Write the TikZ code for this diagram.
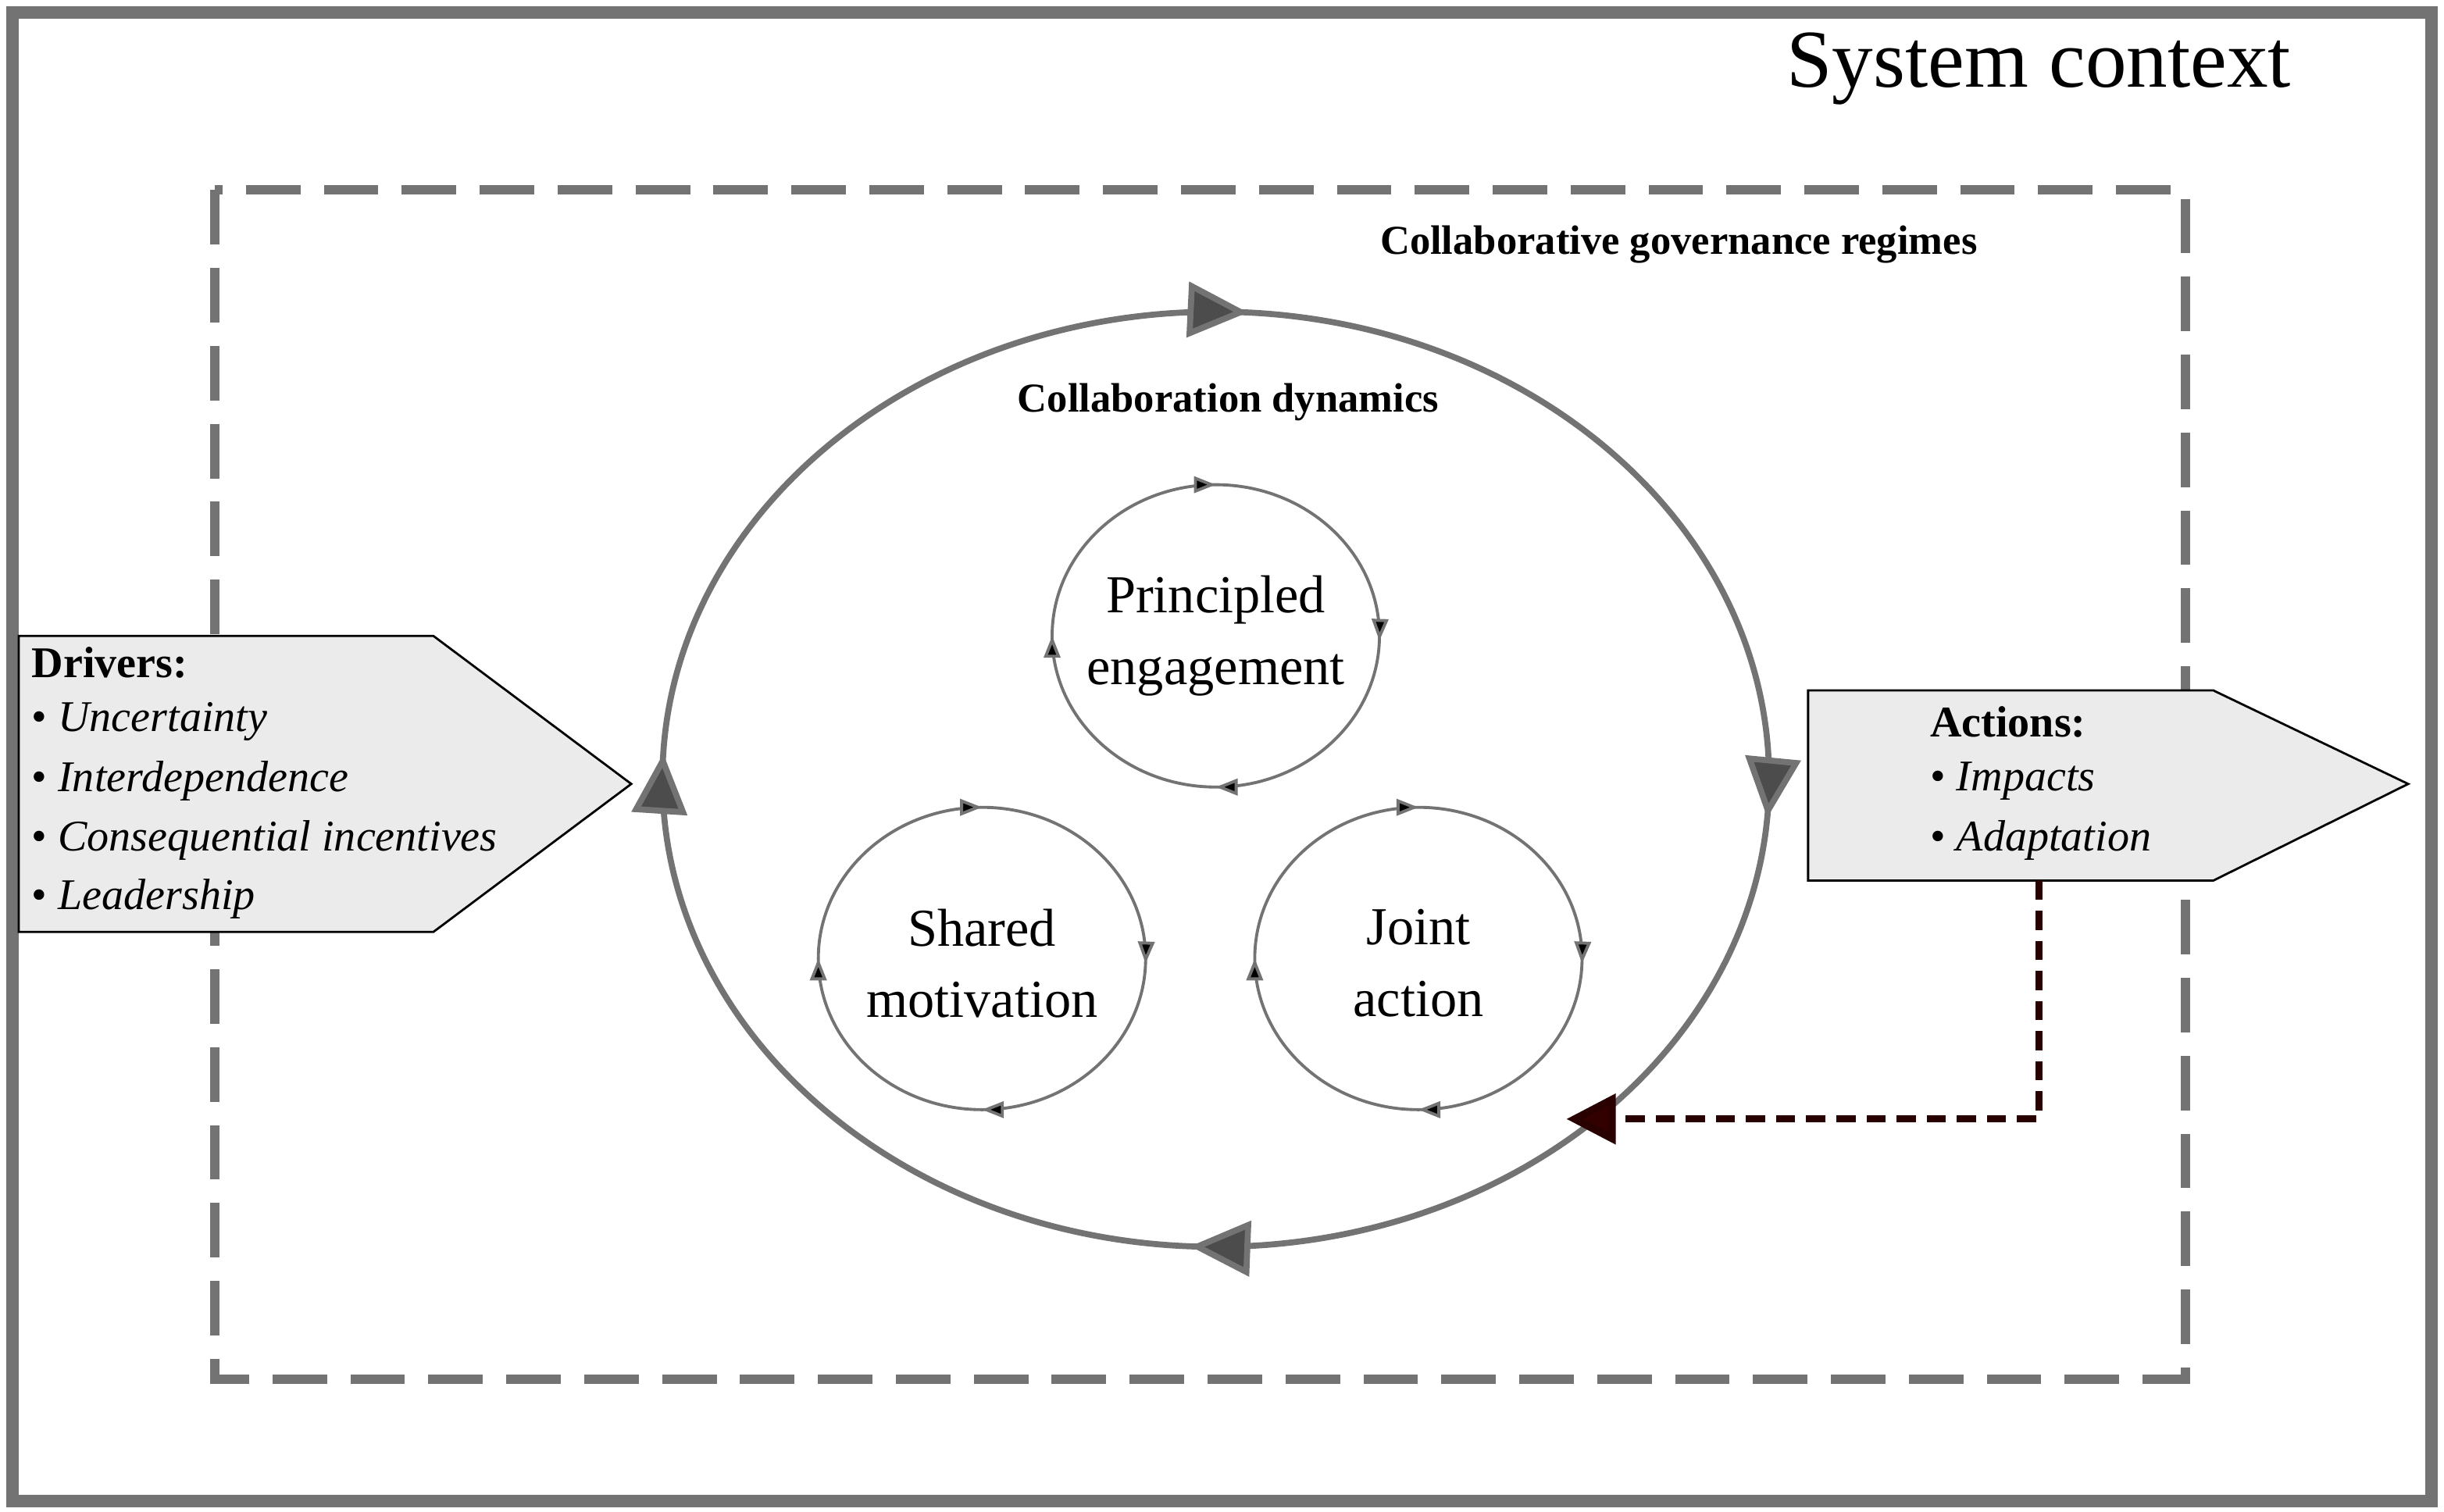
\documentclass[tikz,border=0pt]{standalone}
\usepackage{fontspec}
\setmainfont{Liberation Serif}
\usetikzlibrary{arrows.meta,decorations.markings}
\begin{document}
\begin{tikzpicture}[x=0.02cm,y=-0.02cm,
  big/.style={line width=2.2pt,draw=black!55},
  small/.style={line width=1.1pt,draw=black!55},
  bigtip/.style={decoration={markings,
     mark=at position 0.012 with {\arrow{Triangle[length=22pt,width=20pt,fill=black!70]}},
     mark=at position 0.258 with {\arrow{Triangle[length=22pt,width=20pt,fill=black!70]}},
     mark=at position 0.508 with {\arrow{Triangle[length=22pt,width=20pt,fill=black!70]}},
     mark=at position 0.76 with {\arrow{Triangle[length=22pt,width=20pt,fill=black!70]}}},postaction=decorate},
  smalltip/.style={decoration={markings,
     mark=at position 0.005 with {\arrow{Triangle[length=8pt,width=6pt,fill=black]}},
     mark=at position 0.25 with {\arrow{Triangle[length=8pt,width=6pt,fill=black]}},
     mark=at position 0.5 with {\arrow{Triangle[length=8pt,width=6pt,fill=black]}},
     mark=at position 0.75 with {\arrow{Triangle[length=8pt,width=6pt,fill=black]}}},postaction=decorate},
  pent/.style={draw=black,line width=0.8pt,fill=black!8},
  lst/.style={anchor=west,font=\fontsize{16}{18}\selectfont,inner sep=0pt},
  ctext/.style={align=center,font=\fontsize{19.5}{26}\selectfont}]
\useasboundingbox (0,0) rectangle (1568,970);
\draw[line width=4.5pt,draw=black!55] (8,8) rectangle (1560,963);
\draw[line width=3.4pt,draw=black!55,dash pattern=on 0.7cm off 0.3cm] (138,122) rectangle (1402,885);
\node (sc) at (1308,44) {\fontsize{30}{32}\selectfont System context};
\node (cgr) at (1077,157) {\fontsize{15}{17}\selectfont\bfseries Collaborative governance regimes};
\node (cd) at (788,258) {\fontsize{15}{17}\selectfont\bfseries Collaboration dynamics};
% big ellipse
\draw[big,bigtip] (780,500) ellipse (355 and 300);
\coordinate (ein) at (1005,718);
% small circles
\draw[small,smalltip] (780,408) ellipse (105 and 97);
\node[ctext] (pe) at (780,408) {Principled\\engagement};
\draw[small,smalltip] (630,615) ellipse (105 and 97);
\node[ctext] (sm) at (630,618) {Shared\\motivation};
\draw[small,smalltip] (910,615) ellipse (105 and 97);
\node[ctext] (ja) at (910,618) {Joint\\action};
% drivers
\draw[pent] (12,408) -- (278,408) -- (405,503) -- (278,598) -- (12,598) -- cycle;
\node[lst] (d0) at (20,425) {\bfseries Drivers:};
\node[lst] (d1) at (20,463) {• \itshape Uncertainty};
\node[lst] (d2) at (20,501) {• \itshape Interdependence};
\node[lst] (d3) at (20,539) {• \itshape Consequential incentives};
\node[lst] (d4) at (20,577) {• \itshape Leadership};
% actions
\draw[pent] (1160,443) -- (1420,443) -- (1545,503) -- (1420,565) -- (1160,565) -- cycle;
\coordinate (ab) at (1308,565);
\node[lst] (a0) at (1238,463) {\bfseries Actions:};
\node[lst] (a1) at (1238,501) {• \itshape Impacts};
\node[lst] (a2) at (1238,539) {• \itshape Adaptation};
% feedback
\draw[line width=2.6pt,draw=black!60!red!40!black,dash pattern=on 7pt off 4pt,-{Triangle[length=18pt,width=18pt,fill=black!80!red]}] (ab) |- (ein);
\end{tikzpicture}
\end{document}
